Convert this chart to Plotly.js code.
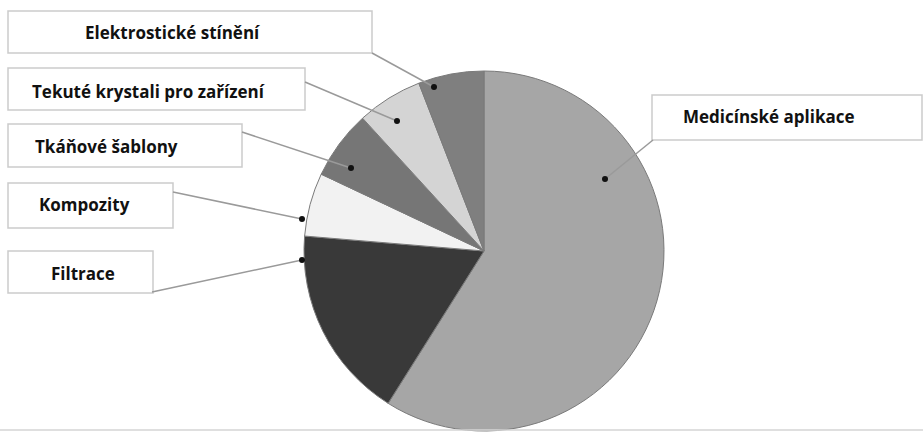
<!DOCTYPE html>
<html>
<head>
<meta charset="utf-8">
<script src="https://cdn.plot.ly/plotly-3.0.1.min.js"></script>
<style>html,body{margin:0;padding:0;background:#fff;}#chart{width:923px;height:432px;}</style>
</head>
<body>
<div id="chart"></div>
<script>
// Data (clockwise from 12 o'clock)
const categories = ["Medicínské aplikace", "Filtrace", "Kompozity", "Tkáňové šablony", "Tekuté krystali pro zařízení", "Elektrostické stínění"];
const values = [59, 17.4, 5.7, 6.2, 5.9, 5.9];
const sliceColors = ["#a6a6a6", "#393939", "#f2f2f2", "#767676", "#d4d4d4", "#7f7f7f"];

// Layout: label boxes [x0, y0, x1, y1] in pixels, text anchor [x, y], leader tail [x, y], leader head [x, y]
const W = 923, H = 432;
const boxes = [
  [652, 95, 922, 140],
  [8, 251, 153, 293],
  [8, 183, 173, 228],
  [8, 124, 242, 167],
  [8, 68, 305, 110],
  [8, 11, 372, 53]
];
const textPos = [[681, 116], [49, 273], [37, 204], [33, 146], [30, 91], [83, 33]];
const tails = [[653, 140], [152, 292], [173, 192], [242, 132], [305, 82], [372, 53]];
const heads = [[605, 179], [302, 260], [302, 219], [351, 168], [397, 121], [434, 87]];

const px = x => x / W;
const py = y => 1 - y / H;

const shapes = [];
const annotations = [];
// bottom frame line
shapes.push({type: 'line', xref: 'paper', yref: 'paper', x0: 0, x1: 1, y0: py(430), y1: py(430), line: {color: '#d4d4d4', width: 1.5}});
categories.forEach((c, i) => {
  const b = boxes[i];
  shapes.push({type: 'rect', xref: 'paper', yref: 'paper', x0: px(b[0]), x1: px(b[2]), y0: py(b[3]), y1: py(b[1]),
    line: {color: '#cbcbcb', width: 1.5}, fillcolor: 'rgba(255,255,255,0)'});
  shapes.push({type: 'line', xref: 'paper', yref: 'paper', x0: px(tails[i][0]), y0: py(tails[i][1]), x1: px(heads[i][0]), y1: py(heads[i][1]),
    line: {color: '#9a9a9a', width: 1.5}});
  shapes.push({type: 'circle', xref: 'paper', yref: 'paper', xsizemode: 'pixel', ysizemode: 'pixel',
    xanchor: px(heads[i][0]), yanchor: py(heads[i][1]), x0: -3, x1: 3, y0: -3, y1: 3,
    fillcolor: '#111', line: {color: '#111', width: 0}});
  annotations.push({text: c, xref: 'paper', yref: 'paper', x: px(textPos[i][0]), y: py(textPos[i][1]),
    xanchor: 'left', yanchor: 'middle', showarrow: false,
    font: {family: 'Open Sans, sans-serif', size: 17, color: '#111111', weight: 'bold'}});
});

const cx = 484, cy = 251, r = 180;
const data = [{
  type: 'pie',
  labels: categories,
  values: values,
  sort: false,
  direction: 'clockwise',
  rotation: 0,
  textinfo: 'none',
  hoverinfo: 'none',
  showlegend: false,
  marker: {colors: sliceColors, line: {color: '#7a7a7a', width: 1}},
  domain: {x: [px(cx - r), px(cx + r)], y: [py(cy + r), py(cy - r)]}
}];

const layout = {
  width: W, height: H,
  margin: {l: 0, r: 0, t: 0, b: 0},
  paper_bgcolor: '#ffffff',
  plot_bgcolor: '#ffffff',
  showlegend: false,
  shapes: shapes,
  annotations: annotations
};
Plotly.newPlot('chart', data, layout, {staticPlot: true, displayModeBar: false});
</script>
</body>
</html>
